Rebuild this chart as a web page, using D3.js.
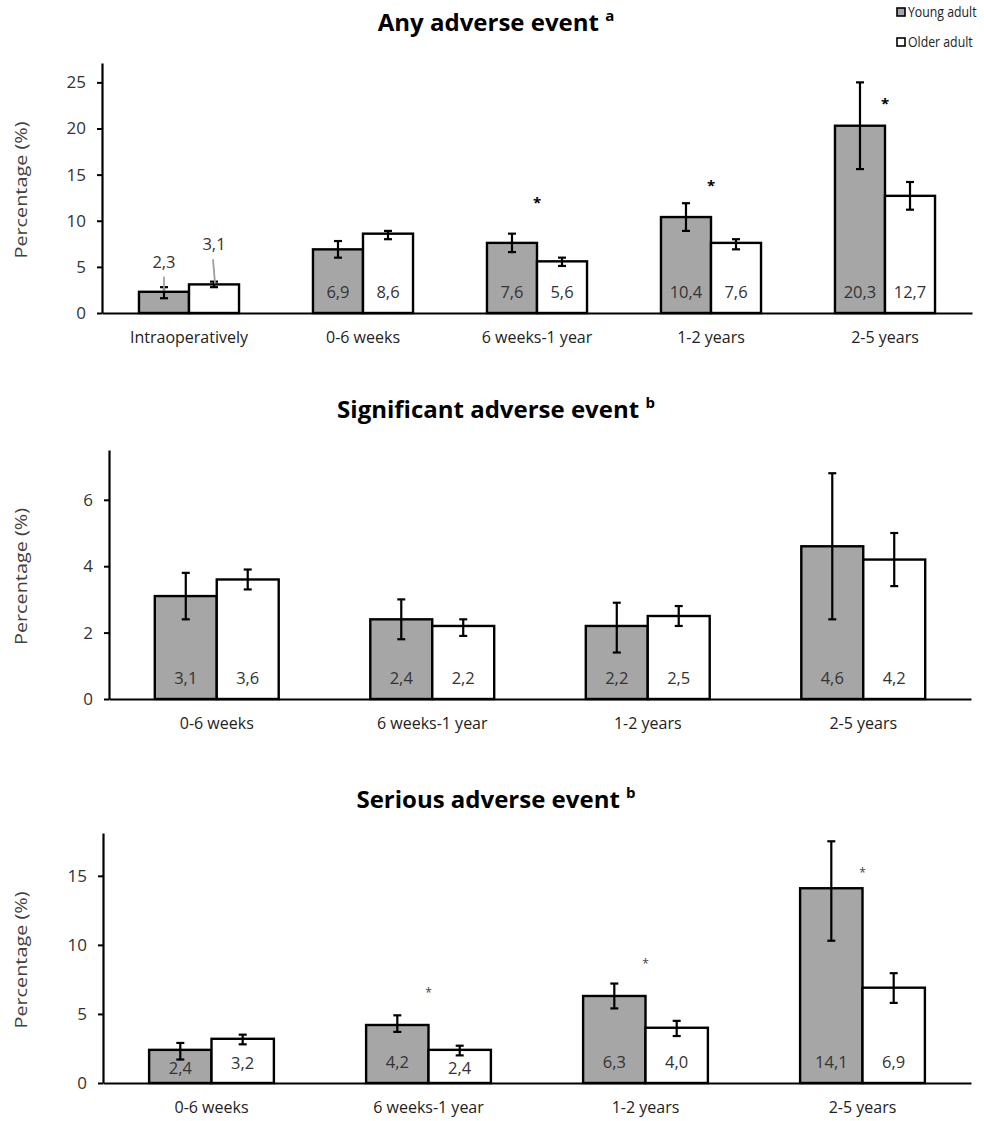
<!DOCTYPE html>
<html lang="en">
<head>
<meta charset="UTF-8">
<title>Adverse events by age group</title>
<script src="https://d3js.org/d3.v7.min.js"></script>
<style>
    body { margin: 0; background: #fff; }
    svg { display: block; font-family: "Open Sans", sans-serif; }
    .title { font-weight: bold; font-size: 24px; fill: #000; }
    .ylabel { font-size: 17px; fill: #404040; }
    .val { font-size: 16.5px; fill: #333; }
    .legend text { font-size: 15px; fill: #222; }
</style>
</head>
<body>
<div id="chart"></div>
<script>
// ---- data ----
const series = ["Young adult", "Older adult"];

const anyCategories = ["Intraoperatively", "0-6 weeks", "6 weeks-1 year", "1-2 years", "2-5 years"];
const anyYoung = [2.3, 6.9, 7.6, 10.4, 20.3];
const anyOlder = [3.1, 8.6, 5.6, 7.6, 12.7];
const anyYoungLow = [1.6, 6.0, 6.6, 8.9, 15.6];
const anyYoungHigh = [2.8, 7.8, 8.6, 11.9, 25.0];
const anyOlderLow = [2.8, 8.0, 5.1, 6.9, 11.2];
const anyOlderHigh = [3.4, 8.9, 6.0, 8.0, 14.2];
const anySignificant = [null, null, 12.5, 14.4, 23.2];
const anyTicks = [0, 5, 10, 15, 20, 25];

const sigCategories = ["0-6 weeks", "6 weeks-1 year", "1-2 years", "2-5 years"];
const sigYoung = [3.1, 2.4, 2.2, 4.6];
const sigOlder = [3.6, 2.2, 2.5, 4.2];
const sigYoungLow = [2.4, 1.8, 1.4, 2.4];
const sigYoungHigh = [3.8, 3.0, 2.9, 6.8];
const sigOlderLow = [3.3, 1.9, 2.2, 3.4];
const sigOlderHigh = [3.9, 2.4, 2.8, 5.0];
const sigSignificant = [null, null, null, null];
const sigTicks = [0, 2, 4, 6];

const serCategories = ["0-6 weeks", "6 weeks-1 year", "1-2 years", "2-5 years"];
const serYoung = [2.4, 4.2, 6.3, 14.1];
const serOlder = [3.2, 2.4, 4.0, 6.9];
const serYoungLow = [1.7, 3.7, 5.4, 10.3];
const serYoungHigh = [2.9, 4.9, 7.2, 17.5];
const serOlderLow = [2.8, 2.0, 3.4, 5.8];
const serOlderHigh = [3.5, 2.7, 4.5, 7.95];
const serSignificant = [null, 6.8, 8.9, 15.5];
const serTicks = [0, 5, 10, 15];

const fmt = v => d3.format(".1f")(v).replace(".", ",");

const width = 984, height = 1121;
const svg = d3.select("#chart").append("svg")
    .attr("width", width).attr("height", height);

function panel(opt) {
    const x0 = d3.scaleBand().domain(opt.categories)
        .range([opt.left, opt.right]).paddingInner(0.425).paddingOuter(0.2125);
    const x1 = d3.scaleBand().domain(series).range([0, x0.bandwidth()]);
    const y = d3.scaleLinear().domain([0, opt.max]).range([opt.bottom, opt.top]);

    // title
    const t = svg.append("text").attr("class", "title")
        .attr("x", 496).attr("y", opt.titleY).attr("text-anchor", "middle");
    t.append("tspan").text(opt.title + " ");
    t.append("tspan").attr("font-size", 15).attr("dy", -10).text(opt.sup);

    // y axis label
    svg.append("text").attr("class", "ylabel")
        .attr("transform", `translate(27,${(opt.top + opt.bottom) / 2 + 2}) rotate(-90)`)
        .attr("text-anchor", "middle")
        .attr("textLength", 137).attr("lengthAdjust", "spacingAndGlyphs")
        .text("Percentage (%)");

    const rows = opt.categories.map((c, i) => [
        { cat: c, s: series[0], v: opt.young[i], lo: opt.youngLow[i], hi: opt.youngHigh[i], fill: "#a6a6a6" },
        { cat: c, s: series[1], v: opt.older[i], lo: opt.olderLow[i], hi: opt.olderHigh[i], fill: "#fff" }
    ]).flat();

    const g = svg.append("g");
    g.selectAll("rect").data(rows).enter().append("rect")
        .attr("x", d => x0(d.cat) + x1(d.s))
        .attr("width", x1.bandwidth())
        .attr("y", d => y(d.v))
        .attr("height", d => y(0) - y(d.v))
        .attr("fill", d => d.fill)
        .attr("stroke", "#000").attr("stroke-width", 2.4);

    // error bars
    const cx = d => x0(d.cat) + x1(d.s) + x1.bandwidth() / 2;
    const eb = g.selectAll(".err").data(rows).enter().append("g")
        .attr("stroke", "#000").attr("stroke-width", 2.2);
    eb.append("line").attr("x1", cx).attr("x2", cx)
        .attr("y1", d => y(d.lo)).attr("y2", d => y(d.hi));
    eb.append("line").attr("x1", d => cx(d) - 4).attr("x2", d => cx(d) + 4)
        .attr("y1", d => y(d.lo)).attr("y2", d => y(d.lo));
    eb.append("line").attr("x1", d => cx(d) - 4).attr("x2", d => cx(d) + 4)
        .attr("y1", d => y(d.hi)).attr("y2", d => y(d.hi));

    // axes
    const ya = svg.append("g").attr("transform", `translate(${opt.left},0)`)
        .call(d3.axisLeft(y).tickValues(opt.ticks).tickSize(5).tickSizeOuter(0).tickPadding(11));
    ya.select(".domain").attr("stroke-width", 2.2);
    ya.selectAll(".tick line").attr("stroke-width", 2);
    ya.selectAll(".tick text").attr("font-size", 17).attr("fill", "#333")
        .attr("font-family", "Open Sans, sans-serif");

    const xa = svg.append("g").attr("transform", `translate(0,${opt.bottom})`)
        .call(d3.axisBottom(x0).tickSize(0).tickSizeOuter(0).tickPadding(19));
    xa.select(".domain").attr("stroke-width", 2.2);
    xa.selectAll(".tick text").attr("font-size", 16).attr("fill", "#222")
        .attr("font-family", "Open Sans, sans-serif");

    // value labels
    rows.forEach(d => {
        const i = opt.categories.indexOf(d.cat);
        const outside = opt.outside && opt.outside[i];
        if (outside) {
            const isYoung = d.s === series[0];
            const ly = y(d.v) - (isYoung ? 24 : 34);
            svg.append("line")
                .attr("x1", cx(d) - (isYoung ? 0 : 1)).attr("x2", cx(d) + (isYoung ? 0 : 1))
                .attr("y1", ly + 9).attr("y2", y(d.v) - 1)
                .attr("stroke", "#a0a0a0").attr("stroke-width", 1.8);
            svg.append("text").attr("class", "val")
                .attr("x", cx(d)).attr("y", ly).attr("text-anchor", "middle").text(fmt(d.v));
        } else {
            const mid = Math.max(y(0) - 21, (y(d.v) + y(0)) / 2 + 2);
            svg.append("text").attr("class", "val")
                .attr("x", cx(d)).attr("y", mid).attr("dy", "0.35em")
                .attr("text-anchor", "middle").text(fmt(d.v));
        }
    });

    // significance asterisks
    opt.significant.forEach((s, i) => {
        if (s === null) return;
        svg.append("text")
            .attr("x", x0(opt.categories[i]) + x0.bandwidth() / 2)
            .attr("y", y(s)).attr("dy", "0.7em")
            .attr("text-anchor", "middle")
            .attr("font-size", opt.starSize).attr("font-weight", opt.starWeight)
            .attr("fill", opt.starColor).text("*");
    });
}

panel({
    title: "Any adverse event", sup: "a", titleY: 31,
    categories: anyCategories, young: anyYoung, older: anyOlder,
    youngLow: anyYoungLow, youngHigh: anyYoungHigh, olderLow: anyOlderLow, olderHigh: anyOlderHigh,
    significant: anySignificant, ticks: anyTicks, max: 27.1,
    outside: [true, false, false, false, false],
    left: 102, right: 972, top: 63, bottom: 313,
    starSize: 15, starWeight: "bold", starColor: "#000"
});

panel({
    title: "Significant adverse event", sup: "b", titleY: 418,
    categories: sigCategories, young: sigYoung, older: sigOlder,
    youngLow: sigYoungLow, youngHigh: sigYoungHigh, olderLow: sigOlderLow, olderHigh: sigOlderHigh,
    significant: sigSignificant, ticks: sigTicks, max: 7.5,
    left: 109, right: 971, top: 450, bottom: 699,
    starSize: 15, starWeight: "bold", starColor: "#000"
});

panel({
    title: "Serious adverse event", sup: "b", titleY: 808,
    categories: serCategories, young: serYoung, older: serOlder,
    youngLow: serYoungLow, youngHigh: serYoungHigh, olderLow: serOlderLow, olderHigh: serOlderHigh,
    significant: serSignificant, ticks: serTicks, max: 18.1,
    left: 103, right: 971, top: 833, bottom: 1083,
    starSize: 12, starWeight: "normal", starColor: "#444"
});

// legend (text squeezed horizontally, like the narrow original font)
const legend = svg.append("g").attr("class", "legend");
const lg = legend.selectAll("g").data(series).enter().append("g")
    .attr("transform", (d, i) => `translate(897,${8 + i * 30})`);
lg.append("rect").attr("width", 8).attr("height", 8)
    .attr("fill", (d, i) => i === 0 ? "#a6a6a6" : "#fff")
    .attr("stroke", "#000").attr("stroke-width", 1.6);
lg.append("text").attr("transform", "translate(11,4) scale(0.82,1)")
    .attr("dy", "0.35em").text(d => d);
</script>
</body>
</html>
